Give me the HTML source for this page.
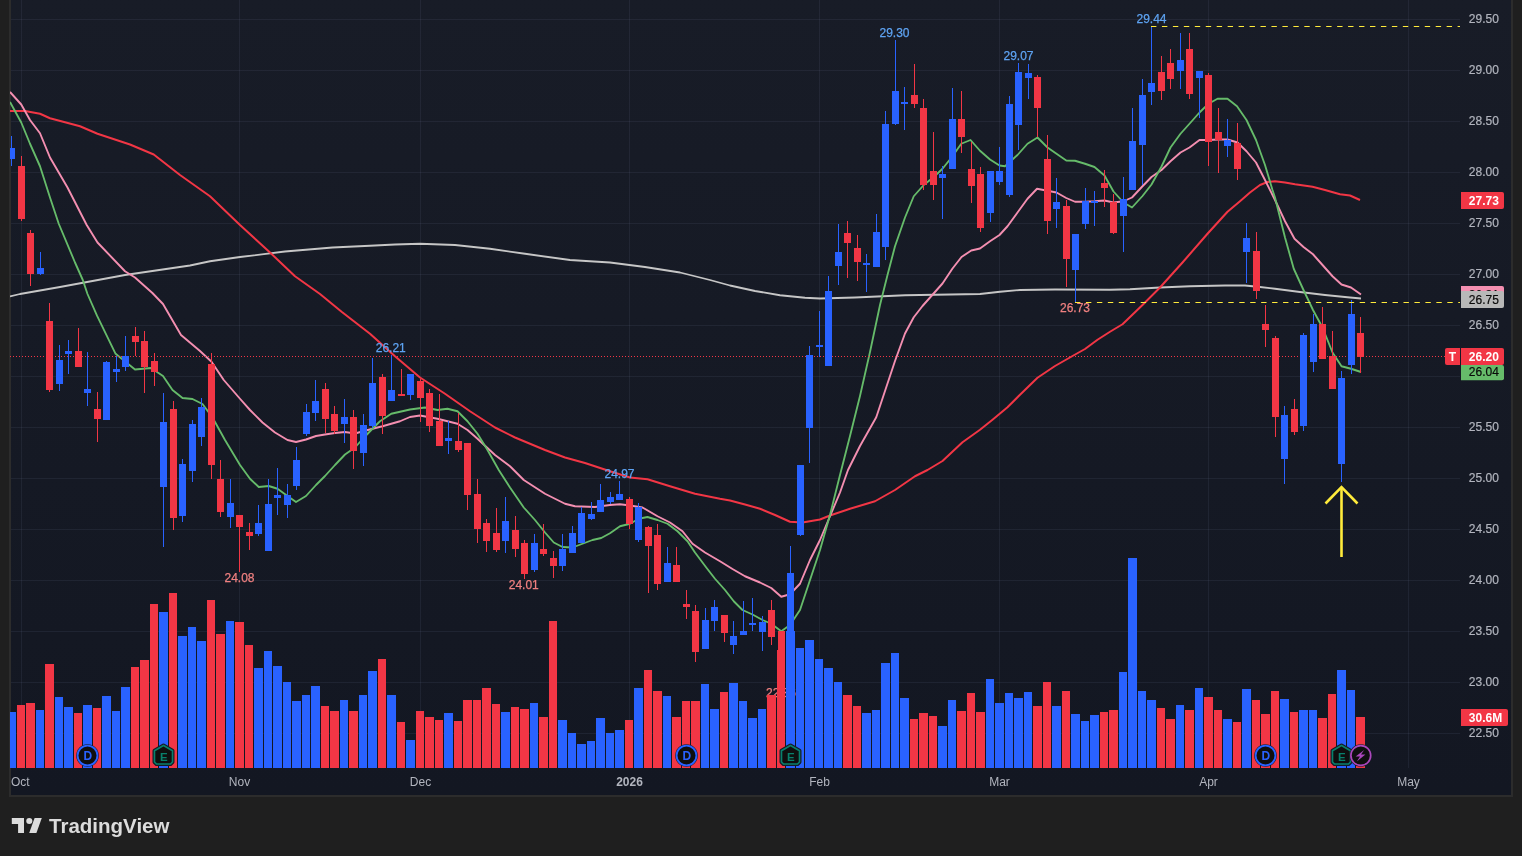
<!DOCTYPE html>
<html lang="en"><head><meta charset="utf-8"><title>Chart</title><style>html,body{margin:0;padding:0;background:#1f1f1f;overflow:hidden}body{width:1522px;height:856px}</style></head><body>
<svg width="1522" height="856" viewBox="0 0 1522 856" style="display:block;will-change:transform" font-family="'Liberation Sans', sans-serif">
<rect x="0" y="0" width="1522" height="856" fill="#1f1f1f"/>
<defs><linearGradient id="bgg" x1="0" y1="0" x2="0" y2="1"><stop offset="0" stop-color="#181c27"/><stop offset="1" stop-color="#131722"/></linearGradient></defs>
<rect x="9" y="-2" width="1504" height="799" fill="#2c2c2c"/>
<rect x="11" y="-2" width="1500" height="797" fill="url(#bgg)"/>
<defs><clipPath id="cp"><rect x="10" y="0" width="1450" height="768"/></clipPath></defs>
<g stroke="rgba(120,130,170,0.115)" stroke-width="1" shape-rendering="crispEdges">
<line x1="11" y1="19.5" x2="1460" y2="19.5"/>
<line x1="11" y1="70.5" x2="1460" y2="70.5"/>
<line x1="11" y1="121.5" x2="1460" y2="121.5"/>
<line x1="11" y1="172.5" x2="1460" y2="172.5"/>
<line x1="11" y1="223.5" x2="1460" y2="223.5"/>
<line x1="11" y1="274.5" x2="1460" y2="274.5"/>
<line x1="11" y1="325.5" x2="1460" y2="325.5"/>
<line x1="11" y1="376.5" x2="1460" y2="376.5"/>
<line x1="11" y1="427.5" x2="1460" y2="427.5"/>
<line x1="11" y1="478.5" x2="1460" y2="478.5"/>
<line x1="11" y1="529.5" x2="1460" y2="529.5"/>
<line x1="11" y1="580.5" x2="1460" y2="580.5"/>
<line x1="11" y1="631.5" x2="1460" y2="631.5"/>
<line x1="11" y1="682.5" x2="1460" y2="682.5"/>
<line x1="11" y1="733.5" x2="1460" y2="733.5"/>
<line x1="21.5" y1="0" x2="21.5" y2="768"/>
<line x1="239.5" y1="0" x2="239.5" y2="768"/>
<line x1="420.5" y1="0" x2="420.5" y2="768"/>
<line x1="629.5" y1="0" x2="629.5" y2="768"/>
<line x1="819.5" y1="0" x2="819.5" y2="768"/>
<line x1="999.5" y1="0" x2="999.5" y2="768"/>
<line x1="1208.5" y1="0" x2="1208.5" y2="768"/>
<line x1="1408.5" y1="0" x2="1408.5" y2="768"/>
</g>
<g clip-path="url(#cp)">
<path d="M10.00,296.50 L20.00,294.00 L60.00,287.00 L125.00,275.00 L190.00,265.50 L210.00,261.25 L240.00,257.00 L285.00,251.50 L332.50,247.50 L370.00,245.75 L395.00,244.50 L420.00,243.75 L455.00,245.00 L490.00,248.75 L525.00,253.75 L570.00,260.00 L610.00,262.50 L645.00,267.00 L680.00,272.50 L710.00,280.00 L730.00,285.50 L755.00,291.00 L780.00,295.25 L805.00,297.75 L820.00,298.50 L855.00,297.50 L905.00,295.25 L980.00,294.00 L1000.00,291.75 L1020.00,290.00 L1055.00,289.50 L1110.00,289.75 L1130.00,289.25 L1160.00,287.50 L1190.00,286.25 L1225.00,285.50 L1245.00,285.50 L1260.00,287.00 L1275.00,288.75 L1300.00,292.00 L1325.00,295.00 L1350.00,297.50 L1361.00,298.50" fill="none" stroke="#c6c6c6" stroke-width="1.8" stroke-linejoin="round"/>
<path d="M10.00,111.00 L25.00,111.00 L40.00,113.75 L50.00,118.25 L80.00,126.25 L97.50,133.75 L130.00,144.50 L153.75,154.50 L180.00,175.00 L210.00,196.25 L240.00,225.00 L270.00,252.50 L295.00,276.25 L320.00,294.00 L341.60,311.70 L370.00,333.75 L395.00,356.25 L420.00,377.50 L445.00,393.75 L470.00,411.25 L495.00,427.50 L515.00,437.50 L545.00,450.00 L565.00,457.50 L585.00,463.00 L610.00,471.25 L630.00,477.50 L647.50,479.25 L670.00,486.25 L695.00,493.75 L720.00,498.75 L730.00,500.50 L745.00,504.50 L760.00,508.75 L775.00,515.00 L790.00,521.75 L802.50,522.50 L820.00,519.50 L830.00,515.50 L850.00,508.75 L875.00,501.25 L895.00,490.00 L915.00,476.25 L927.50,470.00 L942.50,461.00 L962.50,442.25 L980.00,429.75 L992.50,419.75 L1007.50,407.25 L1020.00,394.75 L1037.50,377.75 L1055.00,366.00 L1072.50,356.00 L1085.00,349.00 L1097.50,339.75 L1110.00,331.75 L1122.50,324.25 L1142.50,305.00 L1160.00,287.50 L1182.50,262.50 L1207.50,233.75 L1227.50,211.75 L1240.00,201.25 L1250.00,192.50 L1260.00,185.00 L1267.50,182.00 L1275.00,181.25 L1285.00,182.50 L1295.00,184.25 L1312.50,186.75 L1325.00,190.00 L1340.00,194.25 L1350.00,195.50 L1360.00,200.00" fill="none" stroke="#f23645" stroke-width="2" stroke-linejoin="round"/>
<path d="M10.00,92.00 L21.25,104.50 L30.00,120.00 L40.00,133.25 L50.00,157.50 L67.50,187.50 L86.70,225.00 L97.50,242.50 L125.00,271.25 L135.00,277.50 L152.40,293.00 L163.00,304.00 L181.00,335.00 L200.00,351.00 L211.50,361.70 L223.75,380.00 L240.00,398.75 L250.00,410.00 L262.50,422.50 L275.00,432.50 L287.50,440.00 L296.00,442.00 L306.00,439.50 L316.00,436.00 L325.00,434.50 L335.00,433.00 L345.00,432.00 L355.00,433.50 L364.00,431.00 L372.50,428.75 L382.50,426.25 L400.00,421.25 L410.00,417.00 L420.00,415.50 L437.50,418.75 L457.50,423.75 L467.50,430.00 L477.50,438.75 L495.00,455.00 L510.00,466.25 L523.75,480.00 L545.00,493.75 L565.00,503.75 L575.00,506.25 L595.00,507.00 L610.00,505.00 L620.00,504.25 L630.00,505.50 L642.50,507.50 L657.50,516.25 L670.00,522.50 L682.50,531.25 L692.50,543.75 L705.00,552.50 L720.00,561.25 L732.50,569.00 L745.00,576.25 L760.00,582.50 L771.25,588.00 L781.25,596.75 L790.00,594.25 L800.00,583.75 L810.00,560.00 L820.00,540.00 L830.00,516.25 L840.00,492.50 L848.00,470.00 L860.00,446.00 L876.25,417.25 L885.00,391.00 L895.00,361.00 L905.00,333.50 L913.75,317.25 L922.50,306.00 L932.50,294.75 L942.50,283.50 L952.50,268.50 L961.50,257.00 L971.25,250.50 L980.00,248.50 L990.00,241.25 L999.50,235.00 L1007.50,226.25 L1017.50,212.50 L1027.50,198.75 L1037.00,188.75 L1047.50,190.75 L1056.50,192.50 L1066.25,198.00 L1075.00,201.75 L1085.00,201.75 L1094.50,201.25 L1104.50,200.50 L1113.50,202.50 L1123.50,201.25 L1132.00,197.50 L1142.50,186.25 L1151.50,177.00 L1161.50,170.00 L1170.50,161.25 L1180.50,152.50 L1189.50,147.50 L1199.50,140.00 L1208.50,140.00 L1218.50,139.50 L1227.50,139.50 L1237.50,142.50 L1246.50,151.25 L1256.00,162.50 L1265.00,180.00 L1275.00,200.00 L1285.00,221.25 L1294.50,238.75 L1303.50,247.00 L1313.00,254.25 L1322.50,265.00 L1332.50,276.25 L1341.50,284.50 L1351.00,287.50 L1361.00,294.50" fill="none" stroke="#f48fb1" stroke-width="1.9" stroke-linejoin="round"/>
<path d="M10.00,102.00 L21.25,122.50 L30.00,143.75 L40.00,166.25 L50.00,197.50 L58.75,223.75 L75.00,262.50 L82.80,280.00 L87.50,294.00 L97.00,315.70 L115.60,353.80 L135.00,369.50 L151.00,368.00 L163.00,376.00 L172.50,390.00 L182.50,398.00 L192.50,399.00 L202.50,404.00 L212.50,417.50 L225.00,440.00 L240.00,465.00 L250.00,478.75 L258.75,487.00 L268.75,486.00 L277.50,488.75 L287.50,496.00 L296.00,502.00 L306.00,496.00 L316.00,485.00 L325.00,476.00 L335.00,465.00 L345.00,454.50 L355.00,447.50 L364.00,437.50 L372.50,428.75 L380.00,421.25 L391.25,413.75 L410.00,409.50 L425.00,407.50 L437.50,410.00 L447.50,408.75 L457.50,411.25 L467.50,421.25 L477.50,433.75 L487.50,450.00 L498.75,470.00 L510.00,487.50 L523.75,507.50 L535.00,520.00 L545.00,532.50 L553.75,542.50 L562.50,547.00 L572.50,547.50 L582.50,543.75 L592.50,540.00 L601.25,538.00 L610.00,533.25 L620.00,526.25 L630.00,523.75 L638.75,518.75 L647.50,517.00 L657.50,520.00 L667.50,523.75 L677.50,531.25 L687.50,541.25 L695.00,552.50 L706.25,567.50 L715.00,578.75 L725.00,590.00 L733.75,601.25 L742.50,610.00 L752.50,614.50 L762.50,620.00 L771.25,623.75 L781.25,631.25 L790.00,625.00 L800.00,610.00 L810.00,580.00 L820.00,550.00 L830.00,515.00 L840.00,475.00 L850.00,436.00 L860.00,396.00 L870.00,352.00 L880.00,305.00 L887.50,275.00 L895.00,246.25 L905.00,217.50 L913.75,196.25 L923.75,185.00 L933.75,177.00 L942.50,168.75 L952.50,156.25 L961.25,143.75 L970.50,140.00 L980.00,150.75 L990.00,159.50 L999.50,165.50 L1005.00,166.25 L1017.50,155.00 L1027.50,143.75 L1037.50,137.50 L1047.50,147.50 L1056.50,153.75 L1066.25,160.50 L1075.00,160.75 L1085.00,163.75 L1094.50,167.00 L1104.50,175.50 L1113.50,191.50 L1123.50,202.50 L1132.00,207.50 L1142.50,196.00 L1151.50,184.50 L1161.50,166.50 L1170.50,147.50 L1180.50,133.75 L1189.50,123.75 L1199.50,112.50 L1208.50,103.75 L1217.50,98.75 L1227.50,98.75 L1237.00,106.25 L1246.50,120.00 L1256.00,140.00 L1265.00,165.00 L1272.50,190.00 L1275.00,197.50 L1285.00,237.50 L1293.75,268.75 L1303.50,290.00 L1313.00,310.00 L1322.50,327.50 L1332.50,352.50 L1341.50,366.25 L1351.00,368.75 L1361.00,372.00" fill="none" stroke="#66bb6a" stroke-width="1.85" stroke-linejoin="round"/>
<line x1="10" y1="356.5" x2="1460" y2="356.5" stroke="#f23645" stroke-width="1" stroke-dasharray="1 2" shape-rendering="crispEdges"/>
<g shape-rendering="crispEdges">
<rect x="11" y="136" width="1" height="30" fill="#2962ff"/>
<rect x="8" y="148" width="7" height="11" fill="#2962ff"/>
<rect x="21" y="156" width="1" height="65" fill="#f23645"/>
<rect x="18" y="166" width="7" height="53" fill="#f23645"/>
<rect x="30" y="230" width="1" height="56" fill="#f23645"/>
<rect x="27" y="233" width="7" height="41" fill="#f23645"/>
<rect x="40" y="252" width="1" height="23" fill="#2962ff"/>
<rect x="37" y="268" width="7" height="6" fill="#2962ff"/>
<rect x="49" y="303" width="1" height="89" fill="#f23645"/>
<rect x="46" y="321" width="7" height="69" fill="#f23645"/>
<rect x="59" y="345" width="1" height="46" fill="#2962ff"/>
<rect x="56" y="360" width="7" height="24" fill="#2962ff"/>
<rect x="68" y="340" width="1" height="34" fill="#2962ff"/>
<rect x="65" y="351" width="7" height="3" fill="#2962ff"/>
<rect x="78" y="328" width="1" height="39" fill="#f23645"/>
<rect x="75" y="351" width="7" height="16" fill="#f23645"/>
<rect x="87" y="352" width="1" height="54" fill="#2962ff"/>
<rect x="84" y="389" width="7" height="4" fill="#2962ff"/>
<rect x="97" y="392" width="1" height="50" fill="#f23645"/>
<rect x="94" y="409" width="7" height="10" fill="#f23645"/>
<rect x="106" y="361" width="1" height="59" fill="#2962ff"/>
<rect x="103" y="362" width="7" height="58" fill="#2962ff"/>
<rect x="116" y="356" width="1" height="26" fill="#2962ff"/>
<rect x="113" y="369" width="7" height="3" fill="#2962ff"/>
<rect x="125" y="336" width="1" height="35" fill="#2962ff"/>
<rect x="122" y="356" width="7" height="11" fill="#2962ff"/>
<rect x="135" y="327" width="1" height="29" fill="#f23645"/>
<rect x="132" y="336" width="7" height="6" fill="#f23645"/>
<rect x="144" y="331" width="1" height="62" fill="#f23645"/>
<rect x="141" y="341" width="7" height="26" fill="#f23645"/>
<rect x="154" y="353" width="1" height="33" fill="#f23645"/>
<rect x="151" y="361" width="7" height="11" fill="#f23645"/>
<rect x="163" y="393" width="1" height="154" fill="#2962ff"/>
<rect x="160" y="422" width="7" height="65" fill="#2962ff"/>
<rect x="173" y="401" width="1" height="129" fill="#f23645"/>
<rect x="170" y="409" width="7" height="109" fill="#f23645"/>
<rect x="182" y="459" width="1" height="63" fill="#2962ff"/>
<rect x="179" y="464" width="7" height="52" fill="#2962ff"/>
<rect x="192" y="420" width="1" height="62" fill="#2962ff"/>
<rect x="189" y="424" width="7" height="47" fill="#2962ff"/>
<rect x="201" y="398" width="1" height="48" fill="#2962ff"/>
<rect x="198" y="407" width="7" height="30" fill="#2962ff"/>
<rect x="211" y="353" width="1" height="126" fill="#f23645"/>
<rect x="208" y="364" width="7" height="101" fill="#f23645"/>
<rect x="220" y="460" width="1" height="57" fill="#f23645"/>
<rect x="217" y="479" width="7" height="33" fill="#f23645"/>
<rect x="230" y="479" width="1" height="49" fill="#2962ff"/>
<rect x="227" y="503" width="7" height="14" fill="#2962ff"/>
<rect x="239" y="515" width="1" height="57" fill="#f23645"/>
<rect x="236" y="515" width="7" height="12" fill="#f23645"/>
<rect x="249" y="523" width="1" height="27" fill="#f23645"/>
<rect x="246" y="532" width="7" height="4" fill="#f23645"/>
<rect x="258" y="505" width="1" height="31" fill="#2962ff"/>
<rect x="255" y="523" width="7" height="11" fill="#2962ff"/>
<rect x="268" y="479" width="1" height="72" fill="#2962ff"/>
<rect x="265" y="504" width="7" height="47" fill="#2962ff"/>
<rect x="277" y="468" width="1" height="47" fill="#2962ff"/>
<rect x="274" y="495" width="7" height="3" fill="#2962ff"/>
<rect x="287" y="484" width="1" height="34" fill="#2962ff"/>
<rect x="284" y="495" width="7" height="10" fill="#2962ff"/>
<rect x="296" y="447" width="1" height="43" fill="#2962ff"/>
<rect x="293" y="460" width="7" height="26" fill="#2962ff"/>
<rect x="306" y="404" width="1" height="32" fill="#2962ff"/>
<rect x="303" y="412" width="7" height="22" fill="#2962ff"/>
<rect x="315" y="380" width="1" height="41" fill="#2962ff"/>
<rect x="312" y="401" width="7" height="12" fill="#2962ff"/>
<rect x="325" y="383" width="1" height="50" fill="#f23645"/>
<rect x="322" y="389" width="7" height="30" fill="#f23645"/>
<rect x="334" y="406" width="1" height="28" fill="#f23645"/>
<rect x="331" y="414" width="7" height="17" fill="#f23645"/>
<rect x="344" y="399" width="1" height="44" fill="#2962ff"/>
<rect x="341" y="417" width="7" height="7" fill="#2962ff"/>
<rect x="353" y="410" width="1" height="59" fill="#f23645"/>
<rect x="350" y="417" width="7" height="34" fill="#f23645"/>
<rect x="363" y="414" width="1" height="52" fill="#2962ff"/>
<rect x="360" y="425" width="7" height="28" fill="#2962ff"/>
<rect x="372" y="358" width="1" height="70" fill="#2962ff"/>
<rect x="369" y="383" width="7" height="43" fill="#2962ff"/>
<rect x="382" y="374" width="1" height="60" fill="#f23645"/>
<rect x="379" y="377" width="7" height="39" fill="#f23645"/>
<rect x="391" y="355" width="1" height="46" fill="#2962ff"/>
<rect x="388" y="390" width="7" height="11" fill="#2962ff"/>
<rect x="401" y="369" width="1" height="27" fill="#f23645"/>
<rect x="398" y="394" width="7" height="2" fill="#f23645"/>
<rect x="410" y="374" width="1" height="26" fill="#2962ff"/>
<rect x="407" y="374" width="7" height="21" fill="#2962ff"/>
<rect x="420" y="379" width="1" height="43" fill="#f23645"/>
<rect x="417" y="381" width="7" height="17" fill="#f23645"/>
<rect x="429" y="389" width="1" height="43" fill="#f23645"/>
<rect x="426" y="393" width="7" height="33" fill="#f23645"/>
<rect x="439" y="394" width="1" height="52" fill="#f23645"/>
<rect x="436" y="421" width="7" height="25" fill="#f23645"/>
<rect x="448" y="421" width="1" height="33" fill="#2962ff"/>
<rect x="445" y="438" width="7" height="3" fill="#2962ff"/>
<rect x="458" y="413" width="1" height="39" fill="#f23645"/>
<rect x="455" y="441" width="7" height="9" fill="#f23645"/>
<rect x="467" y="443" width="1" height="67" fill="#f23645"/>
<rect x="464" y="443" width="7" height="52" fill="#f23645"/>
<rect x="477" y="479" width="1" height="64" fill="#f23645"/>
<rect x="474" y="494" width="7" height="35" fill="#f23645"/>
<rect x="486" y="519" width="1" height="33" fill="#f23645"/>
<rect x="483" y="523" width="7" height="18" fill="#f23645"/>
<rect x="496" y="508" width="1" height="44" fill="#f23645"/>
<rect x="493" y="533" width="7" height="17" fill="#f23645"/>
<rect x="505" y="497" width="1" height="56" fill="#2962ff"/>
<rect x="502" y="521" width="7" height="20" fill="#2962ff"/>
<rect x="515" y="516" width="1" height="41" fill="#f23645"/>
<rect x="512" y="530" width="7" height="19" fill="#f23645"/>
<rect x="524" y="540" width="1" height="39" fill="#f23645"/>
<rect x="521" y="543" width="7" height="31" fill="#f23645"/>
<rect x="534" y="534" width="1" height="38" fill="#2962ff"/>
<rect x="531" y="543" width="7" height="27" fill="#2962ff"/>
<rect x="543" y="524" width="1" height="32" fill="#f23645"/>
<rect x="540" y="549" width="7" height="5" fill="#f23645"/>
<rect x="553" y="551" width="1" height="27" fill="#f23645"/>
<rect x="550" y="558" width="7" height="8" fill="#f23645"/>
<rect x="562" y="534" width="1" height="37" fill="#2962ff"/>
<rect x="559" y="549" width="7" height="17" fill="#2962ff"/>
<rect x="572" y="526" width="1" height="27" fill="#2962ff"/>
<rect x="569" y="533" width="7" height="20" fill="#2962ff"/>
<rect x="581" y="507" width="1" height="36" fill="#2962ff"/>
<rect x="578" y="513" width="7" height="30" fill="#2962ff"/>
<rect x="591" y="502" width="1" height="18" fill="#2962ff"/>
<rect x="588" y="514" width="7" height="5" fill="#2962ff"/>
<rect x="600" y="484" width="1" height="28" fill="#2962ff"/>
<rect x="597" y="500" width="7" height="12" fill="#2962ff"/>
<rect x="610" y="492" width="1" height="12" fill="#2962ff"/>
<rect x="607" y="497" width="7" height="5" fill="#2962ff"/>
<rect x="619" y="481" width="1" height="19" fill="#2962ff"/>
<rect x="616" y="494" width="7" height="6" fill="#2962ff"/>
<rect x="629" y="497" width="1" height="32" fill="#f23645"/>
<rect x="626" y="499" width="7" height="25" fill="#f23645"/>
<rect x="638" y="503" width="1" height="39" fill="#2962ff"/>
<rect x="635" y="507" width="7" height="33" fill="#2962ff"/>
<rect x="648" y="526" width="1" height="67" fill="#f23645"/>
<rect x="645" y="527" width="7" height="19" fill="#f23645"/>
<rect x="657" y="524" width="1" height="66" fill="#f23645"/>
<rect x="654" y="535" width="7" height="49" fill="#f23645"/>
<rect x="667" y="547" width="1" height="35" fill="#2962ff"/>
<rect x="664" y="563" width="7" height="19" fill="#2962ff"/>
<rect x="676" y="547" width="1" height="35" fill="#f23645"/>
<rect x="673" y="565" width="7" height="17" fill="#f23645"/>
<rect x="686" y="590" width="1" height="29" fill="#f23645"/>
<rect x="683" y="604" width="7" height="3" fill="#f23645"/>
<rect x="695" y="605" width="1" height="57" fill="#f23645"/>
<rect x="692" y="611" width="7" height="41" fill="#f23645"/>
<rect x="705" y="608" width="1" height="41" fill="#2962ff"/>
<rect x="702" y="620" width="7" height="29" fill="#2962ff"/>
<rect x="714" y="600" width="1" height="31" fill="#2962ff"/>
<rect x="711" y="607" width="7" height="14" fill="#2962ff"/>
<rect x="724" y="615" width="1" height="27" fill="#f23645"/>
<rect x="721" y="615" width="7" height="18" fill="#f23645"/>
<rect x="733" y="621" width="1" height="33" fill="#2962ff"/>
<rect x="730" y="636" width="7" height="9" fill="#2962ff"/>
<rect x="743" y="601" width="1" height="34" fill="#2962ff"/>
<rect x="740" y="631" width="7" height="4" fill="#2962ff"/>
<rect x="752" y="598" width="1" height="33" fill="#2962ff"/>
<rect x="749" y="623" width="7" height="2" fill="#2962ff"/>
<rect x="762" y="616" width="1" height="35" fill="#2962ff"/>
<rect x="759" y="622" width="7" height="10" fill="#2962ff"/>
<rect x="771" y="600" width="1" height="45" fill="#f23645"/>
<rect x="768" y="610" width="7" height="27" fill="#f23645"/>
<rect x="781" y="631" width="1" height="55" fill="#f23645"/>
<rect x="778" y="631" width="7" height="24" fill="#f23645"/>
<rect x="790" y="546" width="1" height="88" fill="#2962ff"/>
<rect x="787" y="573" width="7" height="59" fill="#2962ff"/>
<rect x="800" y="465" width="1" height="71" fill="#2962ff"/>
<rect x="797" y="465" width="7" height="70" fill="#2962ff"/>
<rect x="809" y="346" width="1" height="117" fill="#2962ff"/>
<rect x="806" y="355" width="7" height="73" fill="#2962ff"/>
<rect x="819" y="311" width="1" height="46" fill="#2962ff"/>
<rect x="816" y="345" width="7" height="2" fill="#2962ff"/>
<rect x="828" y="276" width="1" height="90" fill="#2962ff"/>
<rect x="825" y="291" width="7" height="75" fill="#2962ff"/>
<rect x="838" y="224" width="1" height="61" fill="#2962ff"/>
<rect x="835" y="252" width="7" height="14" fill="#2962ff"/>
<rect x="847" y="221" width="1" height="57" fill="#f23645"/>
<rect x="844" y="233" width="7" height="10" fill="#f23645"/>
<rect x="857" y="235" width="1" height="46" fill="#f23645"/>
<rect x="854" y="248" width="7" height="14" fill="#f23645"/>
<rect x="866" y="254" width="1" height="38" fill="#2962ff"/>
<rect x="863" y="263" width="7" height="2" fill="#2962ff"/>
<rect x="876" y="214" width="1" height="53" fill="#2962ff"/>
<rect x="873" y="232" width="7" height="35" fill="#2962ff"/>
<rect x="885" y="111" width="1" height="149" fill="#2962ff"/>
<rect x="882" y="124" width="7" height="123" fill="#2962ff"/>
<rect x="895" y="40" width="1" height="85" fill="#2962ff"/>
<rect x="892" y="91" width="7" height="33" fill="#2962ff"/>
<rect x="904" y="87" width="1" height="43" fill="#2962ff"/>
<rect x="901" y="102" width="7" height="2" fill="#2962ff"/>
<rect x="914" y="64" width="1" height="44" fill="#f23645"/>
<rect x="911" y="95" width="7" height="9" fill="#f23645"/>
<rect x="923" y="99" width="1" height="91" fill="#f23645"/>
<rect x="920" y="108" width="7" height="77" fill="#f23645"/>
<rect x="933" y="132" width="1" height="68" fill="#f23645"/>
<rect x="930" y="171" width="7" height="14" fill="#f23645"/>
<rect x="942" y="166" width="1" height="53" fill="#2962ff"/>
<rect x="939" y="174" width="7" height="4" fill="#2962ff"/>
<rect x="952" y="88" width="1" height="81" fill="#2962ff"/>
<rect x="949" y="119" width="7" height="50" fill="#2962ff"/>
<rect x="961" y="91" width="1" height="62" fill="#f23645"/>
<rect x="958" y="119" width="7" height="18" fill="#f23645"/>
<rect x="971" y="142" width="1" height="61" fill="#f23645"/>
<rect x="968" y="169" width="7" height="17" fill="#f23645"/>
<rect x="980" y="167" width="1" height="65" fill="#f23645"/>
<rect x="977" y="174" width="7" height="54" fill="#f23645"/>
<rect x="990" y="171" width="1" height="51" fill="#2962ff"/>
<rect x="987" y="171" width="7" height="42" fill="#2962ff"/>
<rect x="999" y="147" width="1" height="38" fill="#2962ff"/>
<rect x="996" y="171" width="7" height="11" fill="#2962ff"/>
<rect x="1009" y="96" width="1" height="101" fill="#2962ff"/>
<rect x="1006" y="104" width="7" height="91" fill="#2962ff"/>
<rect x="1018" y="63" width="1" height="87" fill="#2962ff"/>
<rect x="1015" y="72" width="7" height="53" fill="#2962ff"/>
<rect x="1028" y="64" width="1" height="35" fill="#2962ff"/>
<rect x="1025" y="73" width="7" height="5" fill="#2962ff"/>
<rect x="1037" y="75" width="1" height="62" fill="#f23645"/>
<rect x="1034" y="77" width="7" height="31" fill="#f23645"/>
<rect x="1047" y="135" width="1" height="99" fill="#f23645"/>
<rect x="1044" y="159" width="7" height="62" fill="#f23645"/>
<rect x="1056" y="178" width="1" height="50" fill="#2962ff"/>
<rect x="1053" y="202" width="7" height="7" fill="#2962ff"/>
<rect x="1066" y="200" width="1" height="87" fill="#f23645"/>
<rect x="1063" y="206" width="7" height="53" fill="#f23645"/>
<rect x="1075" y="234" width="1" height="68" fill="#2962ff"/>
<rect x="1072" y="234" width="7" height="36" fill="#2962ff"/>
<rect x="1085" y="188" width="1" height="41" fill="#2962ff"/>
<rect x="1082" y="201" width="7" height="23" fill="#2962ff"/>
<rect x="1094" y="191" width="1" height="35" fill="#2962ff"/>
<rect x="1091" y="201" width="7" height="2" fill="#2962ff"/>
<rect x="1104" y="170" width="1" height="37" fill="#f23645"/>
<rect x="1101" y="183" width="7" height="5" fill="#f23645"/>
<rect x="1113" y="194" width="1" height="40" fill="#f23645"/>
<rect x="1110" y="202" width="7" height="31" fill="#f23645"/>
<rect x="1123" y="177" width="1" height="75" fill="#2962ff"/>
<rect x="1120" y="199" width="7" height="17" fill="#2962ff"/>
<rect x="1132" y="108" width="1" height="82" fill="#2962ff"/>
<rect x="1129" y="141" width="7" height="49" fill="#2962ff"/>
<rect x="1142" y="79" width="1" height="106" fill="#2962ff"/>
<rect x="1139" y="95" width="7" height="50" fill="#2962ff"/>
<rect x="1151" y="26" width="1" height="79" fill="#2962ff"/>
<rect x="1148" y="83" width="7" height="9" fill="#2962ff"/>
<rect x="1161" y="56" width="1" height="44" fill="#f23645"/>
<rect x="1158" y="72" width="7" height="19" fill="#f23645"/>
<rect x="1170" y="49" width="1" height="40" fill="#f23645"/>
<rect x="1167" y="63" width="7" height="16" fill="#f23645"/>
<rect x="1180" y="33" width="1" height="56" fill="#2962ff"/>
<rect x="1177" y="60" width="7" height="11" fill="#2962ff"/>
<rect x="1189" y="33" width="1" height="66" fill="#f23645"/>
<rect x="1186" y="49" width="7" height="45" fill="#f23645"/>
<rect x="1199" y="71" width="1" height="47" fill="#2962ff"/>
<rect x="1196" y="71" width="7" height="7" fill="#2962ff"/>
<rect x="1208" y="73" width="1" height="93" fill="#f23645"/>
<rect x="1205" y="75" width="7" height="67" fill="#f23645"/>
<rect x="1218" y="108" width="1" height="65" fill="#f23645"/>
<rect x="1215" y="132" width="7" height="8" fill="#f23645"/>
<rect x="1227" y="119" width="1" height="38" fill="#2962ff"/>
<rect x="1224" y="140" width="7" height="6" fill="#2962ff"/>
<rect x="1237" y="123" width="1" height="57" fill="#f23645"/>
<rect x="1234" y="143" width="7" height="26" fill="#f23645"/>
<rect x="1246" y="223" width="1" height="60" fill="#2962ff"/>
<rect x="1243" y="238" width="7" height="14" fill="#2962ff"/>
<rect x="1256" y="232" width="1" height="67" fill="#f23645"/>
<rect x="1253" y="251" width="7" height="40" fill="#f23645"/>
<rect x="1265" y="305" width="1" height="42" fill="#f23645"/>
<rect x="1262" y="324" width="7" height="6" fill="#f23645"/>
<rect x="1275" y="336" width="1" height="101" fill="#f23645"/>
<rect x="1272" y="338" width="7" height="79" fill="#f23645"/>
<rect x="1284" y="406" width="1" height="78" fill="#2962ff"/>
<rect x="1281" y="415" width="7" height="44" fill="#2962ff"/>
<rect x="1294" y="399" width="1" height="36" fill="#f23645"/>
<rect x="1291" y="409" width="7" height="23" fill="#f23645"/>
<rect x="1303" y="333" width="1" height="98" fill="#2962ff"/>
<rect x="1300" y="335" width="7" height="91" fill="#2962ff"/>
<rect x="1313" y="314" width="1" height="58" fill="#2962ff"/>
<rect x="1310" y="324" width="7" height="38" fill="#2962ff"/>
<rect x="1322" y="307" width="1" height="52" fill="#f23645"/>
<rect x="1319" y="324" width="7" height="35" fill="#f23645"/>
<rect x="1332" y="331" width="1" height="58" fill="#f23645"/>
<rect x="1329" y="356" width="7" height="33" fill="#f23645"/>
<rect x="1341" y="371" width="1" height="111" fill="#2962ff"/>
<rect x="1338" y="378" width="7" height="86" fill="#2962ff"/>
<rect x="1351" y="300" width="1" height="74" fill="#2962ff"/>
<rect x="1348" y="314" width="7" height="51" fill="#2962ff"/>
<rect x="1360" y="317" width="1" height="56" fill="#f23645"/>
<rect x="1357" y="333" width="7" height="24" fill="#f23645"/>
</g>
<line x1="1151" y1="26.5" x2="1460" y2="26.5" stroke="#ffeb3b" stroke-width="1" stroke-dasharray="5.4 5.55"/>
<line x1="1075" y1="302.5" x2="1460" y2="302.5" stroke="#ffeb3b" stroke-width="1" stroke-dasharray="5.4 5.55"/>
<g stroke="#ffeb3b" stroke-width="2.6" fill="none" stroke-linecap="butt"><line x1="1341.5" y1="487" x2="1341.5" y2="557"/><polyline points="1325.5,503.5 1341.5,487 1357.5,503.5" stroke-linejoin="miter"/></g>
<text x="390.75" y="352.3" font-size="12" fill="#5ea3f2" stroke="#5ea3f2" stroke-width="0.25" text-anchor="middle">26.21</text>
<text x="619.5" y="478.3" font-size="12" fill="#5ea3f2" stroke="#5ea3f2" stroke-width="0.25" text-anchor="middle">24.97</text>
<text x="894.5" y="36.8" font-size="12" fill="#5ea3f2" stroke="#5ea3f2" stroke-width="0.25" text-anchor="middle">29.30</text>
<text x="1018.5" y="59.8" font-size="12" fill="#5ea3f2" stroke="#5ea3f2" stroke-width="0.25" text-anchor="middle">29.07</text>
<text x="1151.5" y="22.8" font-size="12" fill="#5ea3f2" stroke="#5ea3f2" stroke-width="0.25" text-anchor="middle">29.44</text>
<text x="239.5" y="581.8" font-size="12" fill="#f08080" stroke="#f08080" stroke-width="0.25" text-anchor="middle">24.08</text>
<text x="523.75" y="589.3" font-size="12" fill="#f08080" stroke="#f08080" stroke-width="0.25" text-anchor="middle">24.01</text>
<text x="1075" y="312.05" font-size="12" fill="#f08080" stroke="#f08080" stroke-width="0.25" text-anchor="middle">26.73</text>
<text x="781" y="696.8" font-size="12" fill="#f08080" stroke="#f08080" stroke-width="0.25" text-anchor="middle">22.86</text>
<g shape-rendering="crispEdges">
<rect x="7" y="712" width="9" height="56" fill="#2962ff"/>
<rect x="17" y="705" width="8" height="63" fill="#f23645"/>
<rect x="26" y="703" width="9" height="65" fill="#f23645"/>
<rect x="36" y="710" width="8" height="58" fill="#2962ff"/>
<rect x="45" y="664" width="9" height="104" fill="#f23645"/>
<rect x="55" y="697" width="8" height="71" fill="#2962ff"/>
<rect x="64" y="707" width="9" height="61" fill="#2962ff"/>
<rect x="74" y="713" width="8" height="55" fill="#f23645"/>
<rect x="83" y="705" width="9" height="63" fill="#2962ff"/>
<rect x="93" y="708" width="8" height="60" fill="#f23645"/>
<rect x="102" y="696" width="9" height="72" fill="#2962ff"/>
<rect x="112" y="711" width="8" height="57" fill="#2962ff"/>
<rect x="121" y="687" width="9" height="81" fill="#2962ff"/>
<rect x="131" y="667" width="8" height="101" fill="#f23645"/>
<rect x="140" y="660" width="9" height="108" fill="#f23645"/>
<rect x="150" y="604" width="8" height="164" fill="#f23645"/>
<rect x="159" y="612" width="9" height="156" fill="#2962ff"/>
<rect x="169" y="593" width="8" height="175" fill="#f23645"/>
<rect x="178" y="636" width="9" height="132" fill="#2962ff"/>
<rect x="188" y="627" width="8" height="141" fill="#2962ff"/>
<rect x="197" y="641" width="9" height="127" fill="#2962ff"/>
<rect x="207" y="600" width="8" height="168" fill="#f23645"/>
<rect x="216" y="634" width="9" height="134" fill="#f23645"/>
<rect x="226" y="621" width="8" height="147" fill="#2962ff"/>
<rect x="235" y="622" width="9" height="146" fill="#f23645"/>
<rect x="245" y="645" width="8" height="123" fill="#f23645"/>
<rect x="254" y="668" width="9" height="100" fill="#2962ff"/>
<rect x="264" y="651" width="8" height="117" fill="#2962ff"/>
<rect x="273" y="666" width="9" height="102" fill="#2962ff"/>
<rect x="283" y="682" width="8" height="86" fill="#2962ff"/>
<rect x="292" y="701" width="9" height="67" fill="#2962ff"/>
<rect x="302" y="695" width="8" height="73" fill="#2962ff"/>
<rect x="311" y="686" width="9" height="82" fill="#2962ff"/>
<rect x="321" y="706" width="8" height="62" fill="#f23645"/>
<rect x="330" y="711" width="9" height="57" fill="#f23645"/>
<rect x="340" y="700" width="8" height="68" fill="#2962ff"/>
<rect x="349" y="711" width="9" height="57" fill="#f23645"/>
<rect x="359" y="695" width="8" height="73" fill="#2962ff"/>
<rect x="368" y="671" width="9" height="97" fill="#2962ff"/>
<rect x="378" y="659" width="8" height="109" fill="#f23645"/>
<rect x="387" y="695" width="9" height="73" fill="#2962ff"/>
<rect x="397" y="722" width="8" height="46" fill="#f23645"/>
<rect x="406" y="740" width="9" height="28" fill="#2962ff"/>
<rect x="416" y="711" width="8" height="57" fill="#f23645"/>
<rect x="425" y="717" width="9" height="51" fill="#f23645"/>
<rect x="435" y="720" width="8" height="48" fill="#f23645"/>
<rect x="444" y="713" width="9" height="55" fill="#2962ff"/>
<rect x="454" y="721" width="8" height="47" fill="#f23645"/>
<rect x="463" y="700" width="9" height="68" fill="#f23645"/>
<rect x="473" y="700" width="8" height="68" fill="#f23645"/>
<rect x="482" y="688" width="9" height="80" fill="#f23645"/>
<rect x="492" y="704" width="8" height="64" fill="#f23645"/>
<rect x="501" y="712" width="9" height="56" fill="#2962ff"/>
<rect x="511" y="707" width="8" height="61" fill="#f23645"/>
<rect x="520" y="709" width="9" height="59" fill="#f23645"/>
<rect x="530" y="703" width="8" height="65" fill="#2962ff"/>
<rect x="539" y="717" width="9" height="51" fill="#f23645"/>
<rect x="549" y="621" width="8" height="147" fill="#f23645"/>
<rect x="558" y="720" width="9" height="48" fill="#2962ff"/>
<rect x="568" y="733" width="8" height="35" fill="#2962ff"/>
<rect x="577" y="744" width="9" height="24" fill="#2962ff"/>
<rect x="587" y="741" width="8" height="27" fill="#2962ff"/>
<rect x="596" y="718" width="9" height="50" fill="#2962ff"/>
<rect x="606" y="733" width="8" height="35" fill="#2962ff"/>
<rect x="615" y="730" width="9" height="38" fill="#2962ff"/>
<rect x="625" y="720" width="8" height="48" fill="#f23645"/>
<rect x="634" y="688" width="9" height="80" fill="#2962ff"/>
<rect x="644" y="670" width="8" height="98" fill="#f23645"/>
<rect x="653" y="691" width="9" height="77" fill="#f23645"/>
<rect x="663" y="696" width="8" height="72" fill="#2962ff"/>
<rect x="672" y="717" width="9" height="51" fill="#f23645"/>
<rect x="682" y="701" width="8" height="67" fill="#f23645"/>
<rect x="691" y="701" width="9" height="67" fill="#f23645"/>
<rect x="701" y="684" width="8" height="84" fill="#2962ff"/>
<rect x="710" y="709" width="9" height="59" fill="#2962ff"/>
<rect x="720" y="692" width="8" height="76" fill="#f23645"/>
<rect x="729" y="683" width="9" height="85" fill="#2962ff"/>
<rect x="739" y="701" width="8" height="67" fill="#2962ff"/>
<rect x="748" y="718" width="9" height="50" fill="#2962ff"/>
<rect x="758" y="709" width="8" height="59" fill="#2962ff"/>
<rect x="767" y="695" width="9" height="73" fill="#f23645"/>
<rect x="777" y="650" width="8" height="118" fill="#f23645"/>
<rect x="786" y="631" width="9" height="137" fill="#2962ff"/>
<rect x="796" y="648" width="8" height="120" fill="#2962ff"/>
<rect x="805" y="640" width="9" height="128" fill="#2962ff"/>
<rect x="815" y="659" width="8" height="109" fill="#2962ff"/>
<rect x="824" y="668" width="9" height="100" fill="#2962ff"/>
<rect x="834" y="682" width="8" height="86" fill="#2962ff"/>
<rect x="843" y="695" width="9" height="73" fill="#f23645"/>
<rect x="853" y="706" width="8" height="62" fill="#f23645"/>
<rect x="862" y="713" width="9" height="55" fill="#2962ff"/>
<rect x="872" y="710" width="8" height="58" fill="#2962ff"/>
<rect x="881" y="663" width="9" height="105" fill="#2962ff"/>
<rect x="891" y="653" width="8" height="115" fill="#2962ff"/>
<rect x="900" y="698" width="9" height="70" fill="#2962ff"/>
<rect x="910" y="719" width="8" height="49" fill="#f23645"/>
<rect x="919" y="713" width="9" height="55" fill="#f23645"/>
<rect x="929" y="716" width="8" height="52" fill="#f23645"/>
<rect x="938" y="726" width="9" height="42" fill="#2962ff"/>
<rect x="948" y="700" width="8" height="68" fill="#2962ff"/>
<rect x="957" y="711" width="9" height="57" fill="#f23645"/>
<rect x="967" y="693" width="8" height="75" fill="#f23645"/>
<rect x="976" y="712" width="9" height="56" fill="#f23645"/>
<rect x="986" y="679" width="8" height="89" fill="#2962ff"/>
<rect x="995" y="703" width="9" height="65" fill="#2962ff"/>
<rect x="1005" y="693" width="8" height="75" fill="#2962ff"/>
<rect x="1014" y="698" width="9" height="70" fill="#2962ff"/>
<rect x="1024" y="692" width="8" height="76" fill="#2962ff"/>
<rect x="1033" y="706" width="9" height="62" fill="#f23645"/>
<rect x="1043" y="682" width="8" height="86" fill="#f23645"/>
<rect x="1052" y="706" width="9" height="62" fill="#2962ff"/>
<rect x="1062" y="691" width="8" height="77" fill="#f23645"/>
<rect x="1071" y="714" width="9" height="54" fill="#2962ff"/>
<rect x="1081" y="721" width="8" height="47" fill="#2962ff"/>
<rect x="1090" y="715" width="9" height="53" fill="#2962ff"/>
<rect x="1100" y="712" width="8" height="56" fill="#f23645"/>
<rect x="1109" y="710" width="9" height="58" fill="#f23645"/>
<rect x="1119" y="672" width="8" height="96" fill="#2962ff"/>
<rect x="1128" y="558" width="9" height="210" fill="#2962ff"/>
<rect x="1138" y="691" width="8" height="77" fill="#2962ff"/>
<rect x="1147" y="700" width="9" height="68" fill="#2962ff"/>
<rect x="1157" y="708" width="8" height="60" fill="#f23645"/>
<rect x="1166" y="719" width="9" height="49" fill="#f23645"/>
<rect x="1176" y="705" width="8" height="63" fill="#2962ff"/>
<rect x="1185" y="710" width="9" height="58" fill="#f23645"/>
<rect x="1195" y="688" width="8" height="80" fill="#2962ff"/>
<rect x="1204" y="697" width="9" height="71" fill="#f23645"/>
<rect x="1214" y="710" width="8" height="58" fill="#f23645"/>
<rect x="1223" y="719" width="9" height="49" fill="#2962ff"/>
<rect x="1233" y="722" width="8" height="46" fill="#f23645"/>
<rect x="1242" y="689" width="9" height="79" fill="#2962ff"/>
<rect x="1252" y="700" width="8" height="68" fill="#f23645"/>
<rect x="1261" y="714" width="9" height="54" fill="#f23645"/>
<rect x="1271" y="691" width="8" height="77" fill="#f23645"/>
<rect x="1280" y="699" width="9" height="69" fill="#2962ff"/>
<rect x="1290" y="712" width="8" height="56" fill="#f23645"/>
<rect x="1299" y="710" width="9" height="58" fill="#2962ff"/>
<rect x="1309" y="710" width="8" height="58" fill="#2962ff"/>
<rect x="1318" y="718" width="9" height="50" fill="#f23645"/>
<rect x="1328" y="694" width="8" height="74" fill="#f23645"/>
<rect x="1337" y="670" width="9" height="98" fill="#2962ff"/>
<rect x="1347" y="690" width="8" height="78" fill="#2962ff"/>
<rect x="1356" y="717" width="9" height="51" fill="#f23645"/>
</g>
</g>
<circle cx="87.5" cy="755.5" r="11.3" fill="#171b26"/><circle cx="87.5" cy="755.5" r="9.9" fill="#0f0f0f" stroke="#2962ff" stroke-width="1.8"/>
<text x="87.8" y="759.8" font-size="12" font-weight="bold" fill="#2962ff" text-anchor="middle">D</text>
<circle cx="686.5" cy="755.5" r="11.3" fill="#171b26"/><circle cx="686.5" cy="755.5" r="9.9" fill="#0f0f0f" stroke="#2962ff" stroke-width="1.8"/>
<text x="686.8" y="759.8" font-size="12" font-weight="bold" fill="#2962ff" text-anchor="middle">D</text>
<circle cx="1265.5" cy="755.5" r="11.3" fill="#171b26"/><circle cx="1265.5" cy="755.5" r="9.9" fill="#0f0f0f" stroke="#2962ff" stroke-width="1.8"/>
<text x="1265.8" y="759.8" font-size="12" font-weight="bold" fill="#2962ff" text-anchor="middle">D</text>
<polygon points="154.5,750.7 163.5,745.5 172.5,750.7 172.5,762.0 170.5,764.0 156.5,764.0 154.5,762.0" fill="#0f0f0f" stroke="#171b26" stroke-width="4" stroke-linejoin="round"/>
<polygon points="154.5,750.7 163.5,745.5 172.5,750.7 172.5,762.0 170.5,764.0 156.5,764.0 154.5,762.0" fill="#0f0f0f" stroke="#08806c" stroke-width="1.6" stroke-linejoin="round"/>
<text x="163.8" y="760.5" font-size="11.5" font-weight="bold" fill="#08806c" text-anchor="middle">E</text>
<polygon points="781.5,750.7 790.5,745.5 799.5,750.7 799.5,762.0 797.5,764.0 783.5,764.0 781.5,762.0" fill="#0f0f0f" stroke="#171b26" stroke-width="4" stroke-linejoin="round"/>
<polygon points="781.5,750.7 790.5,745.5 799.5,750.7 799.5,762.0 797.5,764.0 783.5,764.0 781.5,762.0" fill="#0f0f0f" stroke="#08806c" stroke-width="1.6" stroke-linejoin="round"/>
<text x="790.8" y="760.5" font-size="11.5" font-weight="bold" fill="#08806c" text-anchor="middle">E</text>
<polygon points="1332.5,750.7 1341.5,745.5 1350.5,750.7 1350.5,762.0 1348.5,764.0 1334.5,764.0 1332.5,762.0" fill="#0f0f0f" stroke="#171b26" stroke-width="4" stroke-linejoin="round"/>
<polygon points="1332.5,750.7 1341.5,745.5 1350.5,750.7 1350.5,762.0 1348.5,764.0 1334.5,764.0 1332.5,762.0" fill="#0f0f0f" stroke="#08806c" stroke-width="1.6" stroke-linejoin="round"/>
<text x="1341.8" y="760.5" font-size="11.5" font-weight="bold" fill="#08806c" text-anchor="middle">E</text>
<circle cx="1360.8" cy="755.5" r="11.3" fill="#171b26"/><circle cx="1360.8" cy="755.5" r="9.9" fill="#0f0f0f" stroke="#ab47bc" stroke-width="1.7"/>
<path d="M1364.2,749.9 L1355.6,756.5 L1360.0,756.5 L1356.8,761.5 L1365.3999999999999,754.4 L1361.0,754.4 Z" fill="#ab47bc"/>
<text x="239.5" y="786" font-size="12" fill="#b2b5be" text-anchor="middle">Nov</text>
<text x="420.5" y="786" font-size="12" fill="#b2b5be" text-anchor="middle">Dec</text>
<text x="629.5" y="786" font-size="12" fill="#b2b5be" text-anchor="middle" font-weight="bold">2026</text>
<text x="819.5" y="786" font-size="12" fill="#b2b5be" text-anchor="middle">Feb</text>
<text x="999.5" y="786" font-size="12" fill="#b2b5be" text-anchor="middle">Mar</text>
<text x="1208.5" y="786" font-size="12" fill="#b2b5be" text-anchor="middle">Apr</text>
<text x="1408.5" y="786" font-size="12" fill="#b2b5be" text-anchor="middle">May</text>
<text x="11" y="786" font-size="12" fill="#b2b5be">Oct</text>
<text x="1468.8" y="23.3" font-size="12" fill="#b2b5be" stroke="#b2b5be" stroke-width="0.2">29.50</text>
<text x="1468.8" y="74.3" font-size="12" fill="#b2b5be" stroke="#b2b5be" stroke-width="0.2">29.00</text>
<text x="1468.8" y="125.3" font-size="12" fill="#b2b5be" stroke="#b2b5be" stroke-width="0.2">28.50</text>
<text x="1468.8" y="176.3" font-size="12" fill="#b2b5be" stroke="#b2b5be" stroke-width="0.2">28.00</text>
<text x="1468.8" y="227.3" font-size="12" fill="#b2b5be" stroke="#b2b5be" stroke-width="0.2">27.50</text>
<text x="1468.8" y="278.3" font-size="12" fill="#b2b5be" stroke="#b2b5be" stroke-width="0.2">27.00</text>
<text x="1468.8" y="329.3" font-size="12" fill="#b2b5be" stroke="#b2b5be" stroke-width="0.2">26.50</text>
<text x="1468.8" y="380.3" font-size="12" fill="#b2b5be" stroke="#b2b5be" stroke-width="0.2">26.00</text>
<text x="1468.8" y="431.3" font-size="12" fill="#b2b5be" stroke="#b2b5be" stroke-width="0.2">25.50</text>
<text x="1468.8" y="482.3" font-size="12" fill="#b2b5be" stroke="#b2b5be" stroke-width="0.2">25.00</text>
<text x="1468.8" y="533.3" font-size="12" fill="#b2b5be" stroke="#b2b5be" stroke-width="0.2">24.50</text>
<text x="1468.8" y="584.3" font-size="12" fill="#b2b5be" stroke="#b2b5be" stroke-width="0.2">24.00</text>
<text x="1468.8" y="635.3" font-size="12" fill="#b2b5be" stroke="#b2b5be" stroke-width="0.2">23.50</text>
<text x="1468.8" y="686.3" font-size="12" fill="#b2b5be" stroke="#b2b5be" stroke-width="0.2">23.00</text>
<text x="1468.8" y="737.3" font-size="12" fill="#b2b5be" stroke="#b2b5be" stroke-width="0.2">22.50</text>
<path d="M1461,192 H1502 Q1504,192 1504,194 V207 Q1504,209 1502,209 H1461 Z" fill="#f23645"/>
<text x="1468.8" y="204.7" font-size="12" fill="#fff" font-weight="bold">27.73</text>
<path d="M1461,286 H1502 Q1504,286 1504,288 V301 Q1504,303 1502,303 H1461 Z" fill="#f48fb1"/>
<text x="1468.8" y="298.7" font-size="12" fill="#0a0a0a" stroke="#0a0a0a" stroke-width="0.2">26.81</text>
<path d="M1461,291 H1502 Q1504,291 1504,293 V306 Q1504,308 1502,308 H1461 Z" fill="#b8b8b8"/>
<text x="1468.8" y="303.7" font-size="12" fill="#0a0a0a" stroke="#0a0a0a" stroke-width="0.2">26.75</text>
<path d="M1461,365 H1502 Q1504,365 1504,367 V378.2 Q1504,380.2 1502,380.2 H1461 Z" fill="#66bb6a"/>
<text x="1468.8" y="376.1" font-size="12" fill="#0a0a0a" stroke="#0a0a0a" stroke-width="0.2">26.04</text>
<path d="M1461,348 H1502 Q1504,348 1504,350 V363 Q1504,365 1502,365 H1461 Z" fill="#f23645"/>
<text x="1468.8" y="360.7" font-size="12" fill="#fff" font-weight="bold">26.20</text>
<path d="M1460,348 H1447 Q1445,348 1445,350 V363 Q1445,365 1447,365 H1460 Z" fill="#f23645"/>
<text x="1452.5" y="360.7" font-size="12" font-weight="bold" fill="#fff" text-anchor="middle">T</text>
<path d="M1461,709 H1506 Q1508,709 1508,711 V724 Q1508,726 1506,726 H1461 Z" fill="#f23645"/>
<text x="1468.8" y="721.7" font-size="12" fill="#fff" font-weight="bold">30.6M</text>
<g fill="#dcdcdc"><path d="M11.8,818 H24 V833 H18.1 V824 H11.8 Z"/><circle cx="29.3" cy="821" r="3.05"/><path d="M34.6,818 H41.8 L36.4,833 H29.2 Z"/></g>
<text x="49" y="833" font-size="21" font-weight="bold" fill="#dcdcdc" textLength="120.5" lengthAdjust="spacingAndGlyphs">TradingView</text>
</svg>
</body></html>
